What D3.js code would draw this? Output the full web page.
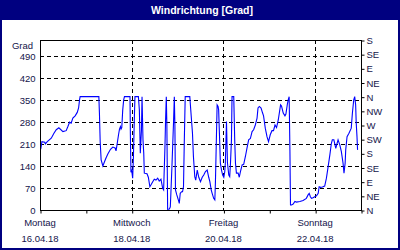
<!DOCTYPE html>
<html><head><meta charset="utf-8">
<script src="https://cdn.jsdelivr.net/npm/d3@7"></script>
<style>
html,body{margin:0;padding:0;background:#fff;}
svg{display:block;}
text{font-family:"Liberation Sans",Arial,sans-serif;}
</style></head>
<body>
<svg id="chart" width="400" height="250"></svg>
<script>
// ---- data ----
const startDate = new Date(2018, 3, 16, 0, 0);   // Montag 16.04.18
const endDate   = new Date(2018, 3, 23, 0, 0);
// hours since start
const hours = [0.4,1.0,2.5,2.8,3.8,5.9,7.3,8.5,9.9,10.4,12.0,13.7,14.6,15.5,16.3,17.2,18.4,19.5,20.2,20.7,21.0,
30.8,31.1,31.5,32.0,32.9,33.8,34.6,35.5,36.9,38.1,39.3,39.8,40.3,41.1,41.6,42.1,42.4,42.8,43.3,43.8,44.2,
47.1,47.3,47.6,48.0,48.5,48.9,49.4,49.7,51.5,52.0,52.5,53.1,53.4,53.9,54.3,54.6,56.0,56.7,57.5,58.1,59.0,59.8,
60.7,61.6,62.4,63.3,64.2,64.7,65.4,65.7,66.1,66.4,66.8,67.7,68.2,68.5,69.0,69.9,70.3,70.6,70.9,71.6,72.4,72.9,
73.4,74.1,74.6,75.1,75.5,76.0,78.4,78.9,79.8,80.3,81.0,81.5,82.3,83.1,84.0,84.9,85.7,86.6,87.5,88.3,88.9,89.6,
90.1,90.9,91.5,91.8,92.3,92.7,93.2,93.5,93.9,94.4,95.0,95.6,96.2,96.7,97.0,97.6,98.1,98.8,99.3,99.7,100.2,100.5,
101.4,101.9,102.3,102.8,103.7,104.3,104.9,105.8,106.6,107.5,108.3,109.2,110.1,111.0,111.8,112.7,113.6,114.1,
114.8,115.7,116.5,117.0,117.9,118.8,119.6,120.5,121.4,122.2,123.0,123.8,124.7,125.9,126.4,127.3,128.2,128.7,
129.4,129.9,130.4,130.8,131.1,131.6,132.5,133.4,134.2,136.0,137.7,139.4,140.3,140.9,141.5,142.1,142.9,143.8,
144.7,145.6,146.1,146.8,147.8,149.0,149.9,150.8,151.7,152.5,153.0,153.8,154.8,155.5,156.0,156.9,157.7,158.6,
159.1,159.7,160.0,160.7,161.7,162.9,163.5,164.2,164.7,165.2,165.5,165.9,166.2];
const values = [193,217,215,210,217,228,244,255,261,258,249,252,265,279,276,292,299,310,324,350,360,
360,308,217,159,140,154,166,178,193,200,197,188,207,239,257,265,257,262,318,350,360,
360,240,120,125,101,170,297,360,360,318,180,255,360,223,180,117,115,104,74,80,90,98,
95,101,92,98,69,64,201,281,360,270,2,3,10,53,130,281,360,270,64,48,32,21,
53,58,58,74,212,360,360,318,244,170,106,95,127,104,90,104,111,122,127,104,90,64,
53,37,32,85,223,334,329,318,244,149,127,111,104,122,150,281,150,111,106,150,223,360,
360,223,149,117,117,104,122,143,145,170,196,223,227,249,255,270,292,324,
329,324,308,299,260,233,217,239,252,252,270,262,286,334,330,308,299,305,
334,350,360,190,16,16,19,27,25,27,30,37,48,53,42,37,39,42,
45,53,74,72,73,76,101,138,175,212,223,223,196,212,223,207,186,149,
117,149,191,233,244,260,308,350,360,334,276,233,191];
const yTicks = [0,70,140,210,280,350,420,490];
const compassDeg = [0,45,90,135,180,225,270,315,360,405,450,495,540];
const compassLabels = ["N","NE","E","SE","S","SW","W","NW","N","NE","E","SE","S"];
const dayLabels = ["Montag","Mittwoch","Freitag","Sonntag"];
const dateLabels = ["16.04.18","18.04.18","20.04.18","22.04.18"];
const title = "Windrichtung [Grad]";
const yUnit = "Grad";

// ---- layout ----
const W = 400, H = 250;
const L = 40, R = 361, T = 40, B = 210;
const navy = "#000080", txt = "#14144a";

const svg = d3.select("#chart");
const x = d3.scaleTime().domain([startDate, endDate]).range([L, R]);
const y = d3.scaleLinear().domain([0, 540]).range([B, T]);

const data = hours.map((h, i) => ({t: new Date(startDate.getTime() + h * 3600e3), v: values[i]}));

// frame & title bar
svg.append("rect").attr("x",0).attr("y",0).attr("width",W).attr("height",H).attr("fill","#fff");
svg.append("rect").attr("x",0).attr("y",0).attr("width",W).attr("height",20).attr("fill",navy);
svg.append("rect").attr("x",1).attr("y",1).attr("width",W-2).attr("height",H-2)
  .attr("fill","none").attr("stroke",navy).attr("stroke-width",2);
svg.append("text").attr("x",W/2+2).attr("y",14).attr("text-anchor","middle")
  .attr("fill","#fff").attr("font-weight","bold").attr("font-size","10.5px").text(title);

// grid
const days = d3.timeDay.range(startDate, d3.timeDay.offset(endDate, 1));
const labelDays = days.filter((d, i) => i % 2 === 0 && d < endDate);
svg.append("g").selectAll("line").data(yTicks.filter(v => v > 0)).join("line")
  .attr("x1", L).attr("x2", R).attr("y1", d => Math.round(y(d)) + 0.5).attr("y2", d => Math.round(y(d)) + 0.5)
  .attr("stroke","#000").attr("stroke-dasharray","4,3");
svg.append("g").selectAll("line").data(labelDays.slice(1)).join("line")
  .attr("x1", d => Math.round(x(d)) + 0.5).attr("x2", d => Math.round(x(d)) + 0.5)
  .attr("y1", T).attr("y2", B)
  .attr("stroke","#000").attr("stroke-dasharray","4,3");

// data line
const line = d3.line().x(d => x(d.t)).y(d => y(d.v));
svg.append("path").datum(data).attr("d", line).attr("fill","none")
  .attr("stroke","#0000ff").attr("stroke-width",1.1);

// plot frame
svg.append("rect").attr("x",L+0.5).attr("y",T+0.5).attr("width",R-L).attr("height",B-T)
  .attr("fill","none").attr("stroke","#000").attr("stroke-width",1);

// left axis
const gl = svg.append("g").attr("transform",`translate(${L+0.5},0.5)`)
  .call(d3.axisLeft(y).tickValues(yTicks).tickSize(0).tickPadding(5));
gl.select(".domain").remove();
gl.selectAll("text").attr("fill",txt).attr("font-size","9.5px").attr("font-family","Liberation Sans, Arial, sans-serif");
svg.append("text").attr("x",33).attr("y",48.5).attr("text-anchor","end").attr("fill",txt)
  .attr("font-size","9.5px").text(yUnit);

// right axis
const gr = svg.append("g").attr("transform",`translate(${R+0.5},0.5)`)
  .call(d3.axisRight(y).tickValues(compassDeg).tickFormat((d,i) => compassLabels[i]).tickSize(3).tickPadding(2));
gr.select(".domain").remove();
gr.selectAll("line").attr("stroke","#000");
gr.selectAll("text").attr("fill",txt).attr("font-size","9.5px").attr("font-family","Liberation Sans, Arial, sans-serif");

// bottom axis
const gb = svg.append("g").attr("transform",`translate(0.5,${B+0.5})`)
  .call(d3.axisBottom(x).tickValues(days.filter(d => d <= endDate)).tickSize(3).tickFormat(""));
gb.select(".domain").remove();
gb.selectAll("line").attr("stroke","#000");
svg.append("g").selectAll("text").data(labelDays).join("text")
  .attr("x", d => x(d)).attr("y", 226).attr("text-anchor","middle").attr("fill",txt)
  .attr("font-size","9.5px").text((d,i) => dayLabels[i]);
svg.append("g").selectAll("text").data(labelDays).join("text")
  .attr("x", d => x(d)).attr("y", 242).attr("text-anchor","middle").attr("fill",txt)
  .attr("font-size","9.5px").text((d,i) => dateLabels[i]);
</script>
</body></html>
